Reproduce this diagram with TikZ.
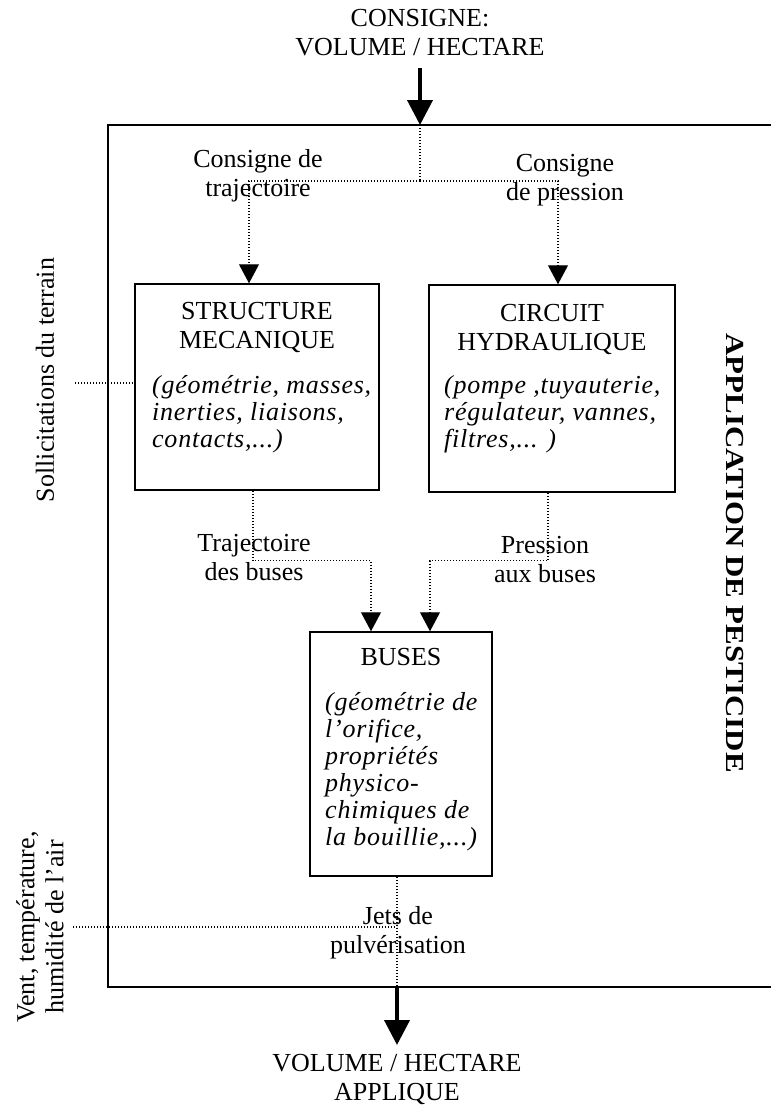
\documentclass[tikz,border=0pt]{standalone}
\usepackage{fontspec}
\setmainfont{Liberation Serif}
\newfontfamily\itlsp[LetterSpace=3]{Liberation Serif}
\usetikzlibrary{arrows.meta}
\begin{document}
\begin{tikzpicture}[x=1pt,y=-1pt,
  lbl/.style={font=\fontsize{26}{29}\selectfont, align=center, inner sep=0pt, anchor=base},
  desc/.style={font=\itlsp\fontsize{26}{27}\selectfont\itshape, align=left, inner sep=0pt, anchor=base west},
  box/.style={draw, line width=1.5pt, inner sep=0pt},
  frameline/.style={line width=1.5pt},
  dotline/.style={line width=1.1pt, dash pattern=on 1.1pt off 1.9pt},
  dotarrow/.style={dotline, -{Triangle[width=20pt,length=19pt]}},
  mainarrow/.style={line width=4pt, -{Triangle[width=25pt,length=25pt]}}]
\useasboundingbox (0,0) rectangle (771,1109);

% top input
\node[lbl] (cons) at (420,55) {CONSIGNE:\\VOLUME / HECTARE};
\coordinate (cstart) at (420,68);
\coordinate (fin) at (420,125);
\draw[mainarrow] (cstart) -- (fin);

% frame
\draw[frameline] (772,125) -- (108,125) -- (108,987) -- (772,987);

% boxes
\node[box, minimum width=244pt, minimum height=206pt] (sm) at (257,387) {};
\node[box, minimum width=246pt, minimum height=207pt] (hc) at (552,388.5) {};
\node[box, minimum width=182pt, minimum height=244pt] (bu) at (401,754) {};

\node[lbl] (smt) at (257,348) {STRUCTURE\\MECANIQUE};
\node[desc] (smd) at (152,447) {(géométrie, masses,\\inerties, liaisons,\\contacts,...)};
\node[lbl] (hct) at (552,350) {CIRCUIT\\HYDRAULIQUE};
\node[desc] (hcd) at (444,447) {(pompe ,tuyauterie,\\régulateur, vannes,\\filtres,... )};
\node[lbl] (but) at (401,665) {BUSES};
\node[desc] (bud) at (325,845) {(géométrie de\\l’orifice,\\propriétés\\physico-\\chimiques de\\la bouillie,...)};

% setpoint split
\coordinate (split) at (420,181);
\draw[dotline] (fin) -- (split);
\draw[dotarrow] (split) -| ([xshift=-8pt]sm.north);
\draw[dotarrow] (split) -| ([xshift=6pt]hc.north);
\node[lbl] (l1) at (258,196) {Consigne de\\trajectoire};
\node[lbl] (l2) at (565,200) {Consigne\\de pression};

% to nozzles
\draw[dotarrow] ([xshift=-4pt]sm.south) -- ++(0,70) -| ([xshift=-30pt]bu.north);
\draw[dotarrow] ([xshift=-4pt]hc.south) -- ++(0,68) -| ([xshift=29pt]bu.north);
\node[lbl] (l3) at (254,580) {Trajectoire\\des buses};
\node[lbl] (l4) at (545,582) {Pression\\aux buses};

% output
\coordinate (fout) at (397,987);
\coordinate (oend) at (397,1045);
\draw[dotline] ([xshift=-4pt]bu.south) -- (fout);
\draw[mainarrow] (fout) -- (oend);
\node[lbl] (outl) at (397,1100) {VOLUME / HECTARE\\APPLIQUE};
\node[lbl] (l5) at (398,953) {Jets de\\pulvérisation};

% disturbances
\coordinate (sol) at (75,383);
\draw[dotline] (sol) -- ([yshift=4pt]sm.west);
\node[lbl, anchor=center, rotate=90] (soll) at (45,380) {Sollicitations du terrain};
\coordinate (vent) at (73,927);
\coordinate (jet) at (397,927);
\draw[dotline] (vent) -- (jet);
\node[lbl, anchor=center, rotate=90] (ventl) at (40,927) {Vent, température,\\humidité de l’air};

% side title
\node[inner sep=0pt, rotate=-90] (title) at (735,553) {\scalebox{1.19}[1]{\fontsize{26}{29}\selectfont\bfseries APPLICATION DE PESTICIDE}};
\end{tikzpicture}
\end{document}
